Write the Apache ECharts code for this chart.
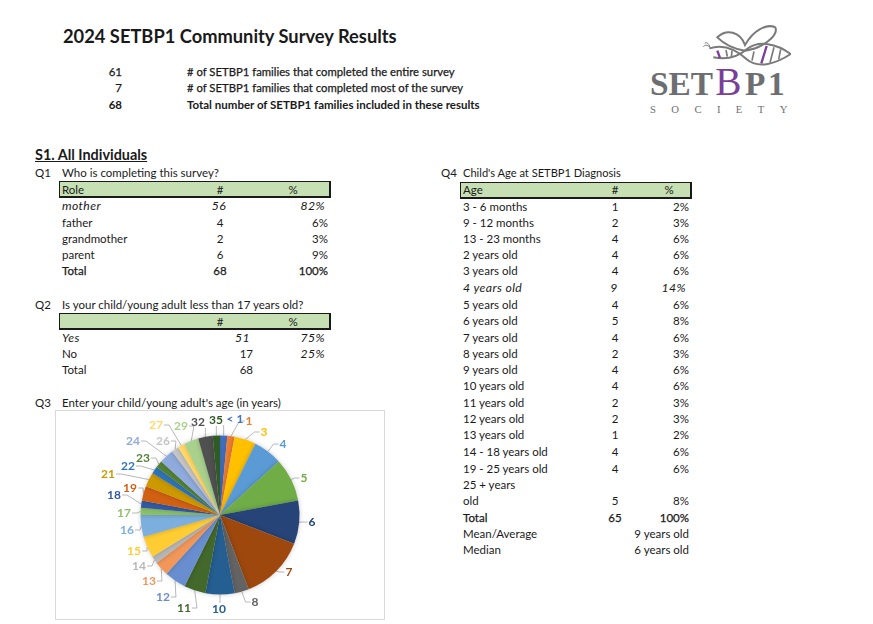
<!DOCTYPE html>
<html>
<head>
<meta charset="utf-8">
<title>2024 SETBP1 Community Survey Results</title>
<script src="https://cdn.jsdelivr.net/npm/echarts@6/dist/echarts.min.js"></script>
<style type="text/css">
	html, body { margin: 0; padding: 0; background: #fff; }
	#page { position: relative; width: 873px; height: 624px; overflow: hidden; font-family: Lato, "Noto Sans", sans-serif; font-size: 11.5px; color: #1a1a1a; }
	.t { position: absolute; white-space: nowrap; line-height: 14px; }
	.b { font-weight: 700; }
	.m { -webkit-text-stroke: 0.25px #1a1a1a; }
	.i { font-style: italic; font-size: 12.2px; letter-spacing: 0.4px; }
	.bar { position: absolute; box-sizing: border-box; background: #c6e0b4; border: 1px solid #1a1a1a; border-bottom-width: 2px; border-right-width: 2px; }
	#pie { position: absolute; left: 55px; top: 410px; width: 330px; height: 210px; box-sizing: border-box; border: 1px solid #d9d9d9; }
	#logo { position: absolute; left: 630px; top: 10px; width: 180px; height: 120px; }
</style>
</head>
<body>
<div id="page">
	<svg id="logo" viewBox="0 0 540 360">
		<g fill="none" stroke="#7a7a7a" stroke-width="6">
			<path d="M262 82 C290 55 330 65 345 105 C370 60 410 40 436 52 C446 75 400 115 345 122 C320 118 285 105 262 82 Z"/>
			<path d="M238 115 C285 100 320 120 350 148 C385 178 440 160 482 132"/>
			<path d="M250 142 C290 150 325 140 350 118 C385 90 440 100 482 132"/>
			<path d="M240 112 C232 104 224 104 220 110 M240 112 C236 98 228 96 224 100" stroke-width="3"/>
			<path d="M288 120 L292 140 M306 122 L304 142 M372 124 L366 152 M432 112 L420 158 M452 118 L446 148" stroke-width="5"/>
		</g>
		<path d="M262 122 L270 144 M410 108 L394 160" fill="none" stroke="#7b3f98" stroke-width="7"/>
		<text x="60" y="254" font-family="Liberation Serif" font-size="100" font-weight="700" fill="#6d6e71">SET</text>
		<text x="256" y="254" font-family="Liberation Serif" font-size="118" fill="#7b3f98">B</text>
		<text x="345" y="254" font-family="Liberation Serif" font-size="100" font-weight="700" fill="#6d6e71" letter-spacing="8">P1</text>
		<text x="60" y="309" font-family="Liberation Serif" font-size="32" fill="#6d6e71" textLength="412">SOCIETY</text>
	</svg>
	<div id="pie"></div>
</div>
<script type="text/javascript">
	// 表头
	var surveyTitle = '2024 SETBP1 Community Survey Results';
	var summaryCounts = ['61', '7', '68'];
	var summaryLabels = ['# of SETBP1 families that completed the entire survey', '# of SETBP1 families that completed most of the survey', 'Total number of SETBP1 families included in these results'];

	// Q1
	var q1Roles = ['mother', 'father', 'grandmother', 'parent', 'Total'];
	var q1Counts = ['56', '4', '2', '6', '68'];
	var q1Pcts = ['82%', '6%', '3%', '9%', '100%'];

	// Q2
	var q2Answers = ['Yes', 'No', 'Total'];
	var q2Counts = ['51', '17', '68'];
	var q2Pcts = ['75%', '25%', ''];

	// Q3 饼图
	var q3Ages = ['< 1', '1', '3', '4', '5', '6', '7', '8', '10', '11', '12', '13', '14', '15', '16', '17', '18', '19', '21', '22', '23', '24', '26', '27', '29', '32', '35'];
	var q3Counts = [1, 1, 3, 4, 6, 6, 9, 2, 4, 3, 3, 2, 1, 3, 3, 1, 1, 2, 2, 1, 1, 2, 1, 1, 2, 2, 1];
	var q3Colors = ['#4472c4', '#ed7d31', '#ffc000', '#5b9bd5', '#70ad47', '#264478', '#9e480e', '#636363', '#255e91', '#43682b', '#698ed0', '#f1975a', '#b7b7b7', '#ffcd33', '#7cafdd', '#8cc168', '#335aa1', '#d26012', '#cc9a00', '#2e75b6', '#548235', '#8faadc', '#c5c5c5', '#ffd966', '#a9d18e', '#505050', '#2f5b24'];

	// Q4
	var q4Ages = ['3 - 6 months', '9 - 12 months', '13 - 23 months', '2 years old', '3 years old', '4 years old', '5 years old', '6 years old', '7 years old', '8 years old', '9 years old', '10 years old', '11 years old', '12 years old', '13 years old', '14 - 18 years old', '19 - 25 years old', '25 + years', 'old', 'Total'];
	var q4Counts = ['1', '2', '4', '4', '4', '9', '4', '5', '4', '2', '4', '4', '2', '2', '1', '4', '4', '', '5', '65'];
	var q4Pcts = ['2%', '3%', '6%', '6%', '6%', '14%', '6%', '8%', '6%', '3%', '6%', '6%', '3%', '3%', '2%', '6%', '6%', '', '8%', '100%'];

	var page = document.getElementById('page');

	// align: l 左对齐, c 居中, r 右对齐; y 为文字中线
	function put(x, y, text, align, cls, size) {
		var el = document.createElement('div');
		el.className = 't ' + (cls || '');
		el.textContent = text;
		el.style.top = (y - 7) + 'px';
		if (size) el.style.fontSize = size + 'px';
		if (align === 'r') {
			el.style.right = (873 - x) + 'px';
		} else {
			el.style.left = x + 'px';
			if (align === 'c') el.style.transform = 'translateX(-50%)';
		}
		page.appendChild(el);
		return el;
	}

	function bar(x, y, w, h) {
		var el = document.createElement('div');
		el.className = 'bar';
		el.style.cssText = 'left:' + x + 'px;top:' + y + 'px;width:' + w + 'px;height:' + h + 'px';
		page.appendChild(el);
	}

	put(63, 36, surveyTitle, 'l', 'b', 18.3);
	var summaryY = [72, 88, 105];
	summaryCounts.forEach(function(c, i) {
		put(122, summaryY[i], c, 'r', i === 2 ? 'b' : 'm');
		put(187, summaryY[i], summaryLabels[i], 'l', i === 2 ? 'b' : 'm', i === 2 ? 11.5 : 11.3);
	});

	put(35, 155, 'S1. All Individuals', 'l', 'b', 14.4).style.textDecoration = 'underline';

	// Q1 表
	put(35, 173, 'Q1');
	put(62, 173, 'Who is completing this survey?');
	bar(59, 181, 272, 17);
	put(62, 190, 'Role');
	put(220, 190, '#', 'c');
	put(293, 190, '%', 'c');
	var q1Y = [206, 223, 239, 255, 271];
	q1Roles.forEach(function(r, i) {
		var cls = i === 0 ? 'i' : (i === 4 ? 'm' : '');
		put(62, q1Y[i], r, 'l', cls);
		put(i === 0 ? 219 : 220, q1Y[i], q1Counts[i], 'c', cls);
		put(i === 0 ? 325 : 328, q1Y[i], q1Pcts[i], 'r', cls);
	});

	// Q2 表
	put(35, 305, 'Q2');
	put(62, 305, 'Is your child/young adult less than 17 years old?');
	bar(59, 313, 272, 17);
	put(220, 322, '#', 'c');
	put(293, 322, '%', 'c');
	var q2Y = [338, 354, 370];
	q2Answers.forEach(function(r, i) {
		put(62, q2Y[i], r, 'l', i === 0 ? 'i' : '');
		put(i === 0 ? 250 : 253, q2Y[i], q2Counts[i], 'r', i === 0 ? 'i' : '');
		put(325, q2Y[i], q2Pcts[i], 'r', 'i');
	});

	put(35, 403, 'Q3');
	put(62, 403, "Enter your child/young adult's age (in years)");

	// Q4 表
	put(441, 173, 'Q4');
	put(463, 173, "Child's Age at SETBP1 Diagnosis", 'l', '', 11.1);
	bar(460, 182, 232, 17);
	put(463, 190, 'Age');
	put(615, 190, '#', 'c');
	put(669, 190, '%', 'c');
	var q4Y = [207, 223, 239, 255, 271, 288, 305, 321, 338, 354, 370, 386, 403, 419, 435, 452, 469, 485, 501, 518];
	q4Ages.forEach(function(r, i) {
		var cls = i === 5 ? 'i' : (i === 19 ? 'm' : '');
		put(463, q4Y[i], r, 'l', cls);
		put(i === 5 ? 614 : 615, q4Y[i], q4Counts[i], 'c', cls);
		put(i === 5 ? 686 : 689, q4Y[i], q4Pcts[i], 'r', cls);
	});
	put(463, 534, 'Mean/Average');
	put(689, 534, '9 years old', 'r');
	put(463, 550, 'Median');
	put(689, 550, '6 years old', 'r');

	// 饼图
	var pieCenter = [164, 104];
	var pieRadius = 79.5;
	// 标签位置(页面坐标),Excel 里是手工摆放的
	var labelPageX = [235, 249, 264, 283, 304, 312, 289, 255, 219, 184, 163, 149, 139, 134, 127, 124, 114, 130, 108, 128, 143, 133, 163, 156, 181, 198, 216];
	var labelPageY = [419, 421, 432, 444, 478, 522, 572, 602, 609, 608, 597, 581, 566, 551, 530, 513, 495, 488, 474, 466, 458, 441, 441, 425, 426, 422, 420];

	var countTotal = q3Counts.reduce(function(a, b) { return a + b; }, 0);
	var before = 0;
	var midAngles = q3Counts.map(function(c) {
		var mid = (before + c / 2) / countTotal * 2 * Math.PI;
		before += c;
		return mid;
	});

	var myChart = echarts.init(document.getElementById('pie'));
	var pieData = q3Ages.map(function(name, i) {
		return {
			name: name,
			value: q3Counts[i],
			itemStyle: { color: q3Colors[i] },
			label: { color: q3Colors[i] }
		};
	});
	myChart.setOption({
		animation: false,
		series: [{
			type: 'pie',
			radius: [0, pieRadius],
			center: pieCenter,
			startAngle: 90,
			clockwise: true,
			avoidLabelOverlap: false,
			minShowLabelAngle: 0,
			data: pieData,
			itemStyle: { shadowBlur: 5, shadowColor: 'rgba(0,0,0,0.22)' },
			label: { show: true, formatter: '{b}', fontFamily: 'Lato', fontWeight: 'bold', fontSize: 12 },
			labelLine: { show: true, lineStyle: { color: '#a6a6a6', width: 0.8 } },
			labelLayout: function(params) {
				var i = params.dataIndex;
				var x = labelPageX[i] - 56;
				var y = labelPageY[i] - 411;
				var edge = [pieCenter[0] + pieRadius * Math.sin(midAngles[i]), pieCenter[1] - pieRadius * Math.cos(midAngles[i])];
				var halfW = params.labelRect.width / 2;
				var halfH = params.labelRect.height / 2;
				var dx = x - edge[0];
				var dy = y - edge[1];
				var points;
				if (Math.abs(dx) < halfW + 3) {
					// 正上/正下方的标签:竖线
					points = [edge, [edge[0], y + (dy > 0 ? -halfH : halfH)]];
					points.splice(1, 0, [edge[0], (edge[1] + points[1][1]) / 2]);
				} else {
					var end = x + (dx > 0 ? -halfW - 1 : halfW + 1);
					points = [edge, [end + (dx > 0 ? -5 : 5), y], [end, y]];
				}
				return { x: x, y: y, align: 'center', verticalAlign: 'middle', labelLinePoints: points };
			}
		}]
	});
</script>
</body>
</html>
